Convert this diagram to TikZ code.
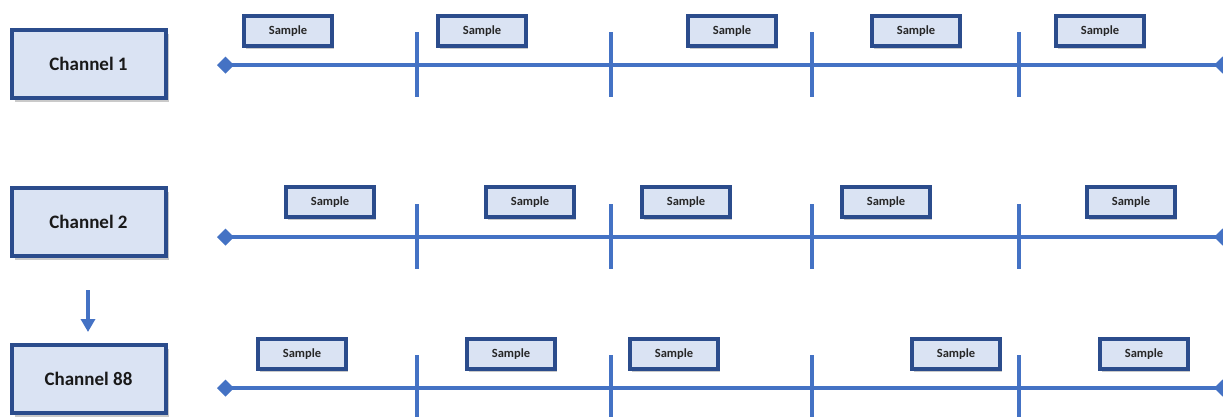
\documentclass[tikz,border=0pt]{standalone}
\usepackage{fontspec}
\setmainfont{Carlito}
\usetikzlibrary{arrows.meta,shadows}
\definecolor{lineblue}{HTML}{4472C4}
\definecolor{boxedge}{HTML}{2B4C8C}
\definecolor{boxfill}{HTML}{DAE3F3}
\tikzset{
  chanbox/.style={draw=boxedge,line width=4pt,fill=boxfill,minimum width=154pt,minimum height=68pt,inner sep=0pt,font=\fontsize{19}{21}\selectfont\bfseries,text=black!90,drop shadow={shadow xshift=3pt,shadow yshift=-4pt,opacity=0.35,fill=black!60}},
  sampbox/.style={draw=boxedge,line width=3.4pt,fill=boxfill,minimum width=88pt,minimum height=30pt,inner sep=0pt,font=\fontsize{12.5}{14}\selectfont\bfseries,text=black!85,drop shadow={shadow xshift=2pt,shadow yshift=-3pt,opacity=0.35,fill=black!60}},
  timeline/.style={draw=lineblue,line width=4.5pt,{Diamond[length=17pt,width=17pt]}-{Diamond[length=17pt,width=17pt]}},
  tickline/.style={draw=lineblue,line width=4.5pt},
  downarrow/.style={draw=lineblue,line width=3.5pt,-{Triangle[length=13pt,width=14pt]}}
}
\begin{document}
\begin{tikzpicture}[x=1pt,y=-1pt]
\useasboundingbox (0,0) rectangle (1223,416);
% channel boxes
\node[chanbox] (c1) at (88.5,64) {Channel 1};
\node[chanbox] (c2) at (88.5,221.5) {Channel 2};
\node[chanbox] (c88) at (88.5,379) {Channel 88};
\coordinate (a1) at (88,290);
\coordinate (a2) at (88,332);
\draw[downarrow] (a1) -- (a2);
% timelines
\foreach \r/\y/\ty/\by in {1/65/32/97, 2/237/204/269, 3/388/355/421}{
  \coordinate (L\r) at (217,\y);
  \coordinate (R\r) at (1231,\y);
  \draw[timeline] (L\r) -- (R\r);
  \foreach \k/\x in {1/417,2/611,3/812,4/1019}{
    \coordinate (t\r\k a) at (\x,\ty);
    \coordinate (t\r\k b) at (\x,\by);
    \draw[tickline] (t\r\k a) -- (t\r\k b);
  }
}
% samples row 1
\foreach \k/\x in {1/288,2/482,3/732,4/916,5/1100}{
  \node[sampbox] (s1\k) at (\x,31) {Sample};
}
% samples row 2
\foreach \k/\x in {1/330,2/530,3/686,4/886,5/1131}{
  \node[sampbox] (s2\k) at (\x,202) {Sample};
}
% samples row 3
\foreach \k/\x in {1/302,2/511,3/674,4/956,5/1144}{
  \node[sampbox] (s3\k) at (\x,354) {Sample};
}
\end{tikzpicture}
\end{document}
